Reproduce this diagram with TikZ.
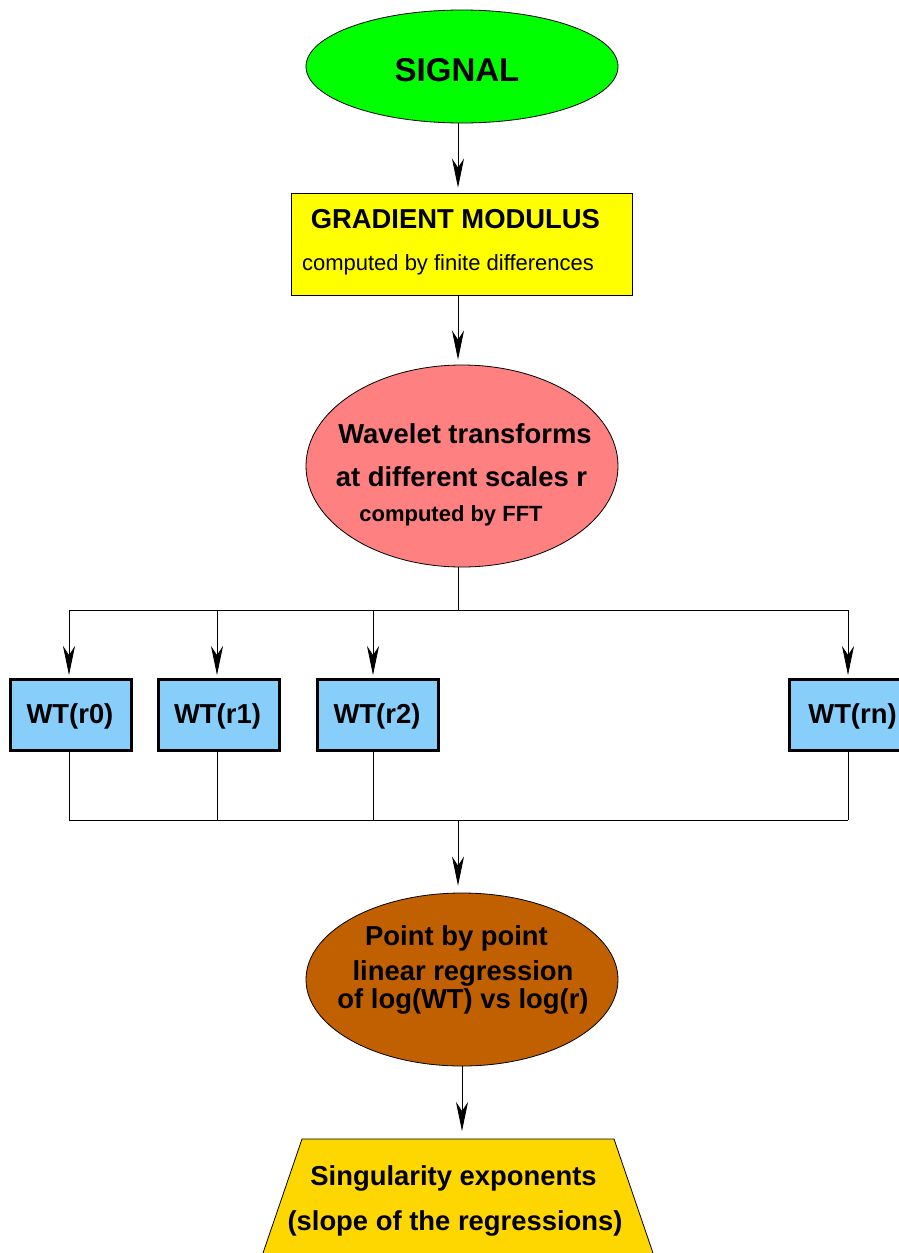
\documentclass[tikz,border=0pt]{standalone}
\usepackage{fontspec}
\setmainfont{Liberation Sans}
\usetikzlibrary{shapes.geometric,arrows.meta}
\definecolor{sigG}{RGB}{0,255,0}
\definecolor{gradY}{RGB}{255,255,0}
\definecolor{wavP}{RGB}{255,128,128}
\definecolor{wtB}{RGB}{135,206,250}
\definecolor{regB}{RGB}{192,96,0}
\definecolor{singY}{RGB}{255,215,0}
\tikzset{
  shapeline/.style={draw=black,line width=0.8pt},
  ell/.style={shapeline,ellipse,inner sep=0pt,minimum width=312pt},
  wtbox/.style={draw=black,line width=3pt,fill=wtB,rectangle,inner sep=0pt,
    minimum width=121pt,minimum height=71pt},
  conn/.style={line width=0.8pt},
  arr/.style={conn,-{Stealth[length=29pt,width=12pt,inset=9pt]}},
  bt/.style={anchor=base,inner sep=0pt,font=\fontsize{27.4}{32}\selectfont\bfseries},
  st/.style={anchor=base,inner sep=0pt,font=\fontsize{22}{26}\selectfont\bfseries},
  rt/.style={anchor=base,inner sep=0pt,font=\fontsize{22}{26}\selectfont},
}
\begin{document}
\begin{tikzpicture}[x=1pt,y=-1pt]
\path[use as bounding box,clip] (0,0) rectangle (899,1253);
% shapes
\node[ell,fill=sigG,minimum height=113pt] (signal) at (462,66.5) {};
\node[shapeline,fill=gradY,rectangle,inner sep=0pt,minimum width=341pt,minimum height=102pt] (grad) at (461.5,244) {};
\node[ell,fill=wavP,minimum height=202pt] (wav) at (462,466) {};
\node[wtbox] (w0) at (71,715) {};
\node[wtbox] (w1) at (219,715) {};
\node[wtbox] (w2) at (378,715) {};
\node[wtbox] (wn) at (850,715) {};
\node[ell,fill=regB,minimum height=173pt] (reg) at (462,979.5) {};
\path[shapeline,fill=singY] (302,1139) -- (614,1139) -- (658.8,1270) -- (257.2,1270) -- cycle;
\coordinate (singtop) at (462,1139);
% texts
\node[font=\fontsize{33}{38}\selectfont\bfseries,anchor=base,inner sep=0pt] (tsig) at (457,81.7) {SIGNAL};
\node[bt] (tg1) at (455.4,228) {GRADIENT MODULUS};
\node[rt] (tg2) at (448,270.7) {computed by finite differences};
\node[bt] (tw1) at (465,443) {Wavelet transforms};
\node[bt] (tw2) at (461.5,486) {at different scales r};
\node[st] (tw3) at (451,521.7) {computed by FFT};
\node[bt] (t0) at (70,723) {WT(r0)};
\node[bt] (t1) at (217.5,723) {WT(r1)};
\node[bt] (t2) at (377,723) {WT(r2)};
\node[bt] (tn) at (852.5,723) {WT(rn)};
\node[bt] (tr1) at (456.5,945) {Point by point};
\node[bt] (tr2) at (463,980) {linear regression};
\node[bt] (tr3) at (463,1008) {of log(WT) vs log(r)};
\node[bt] (ts1) at (453.5,1185) {Singularity exponents};
\node[bt] (ts2) at (455,1230) {(slope of the regressions)};
% connectors
\coordinate (spine) at (458,0);
\coordinate (fork) at (458,610);
\coordinate (join) at (458,820);
\coordinate (l0) at (69,0);
\coordinate (l1) at (217,0);
\coordinate (l2) at (373,0);
\coordinate (ln) at (848,0);
\draw[arr,shorten >=5pt] (signal.south -| spine) -- (grad.north -| spine);
\draw[arr,shorten >=5pt] (grad.south -| spine) -- (wav.north -| spine);
\draw[conn] (wav.south -| spine) -- (fork);
\draw[conn] (fork -| l0) -- (fork -| ln);
\foreach \b/\l in {w0/l0,w1/l1,w2/l2,wn/ln}{
  \draw[arr,shorten >=3pt] (fork -| \l) -- (\b.north -| \l);
  \draw[conn] (\b.south -| \l) -- (join -| \l);
}
\draw[conn] (join -| l0) -- (join -| ln);
\draw[arr,shorten >=7pt] (join) -- (reg.north -| spine);
\draw[arr,shorten >=8pt] (reg.south) -- (singtop);
\end{tikzpicture}
\end{document}
